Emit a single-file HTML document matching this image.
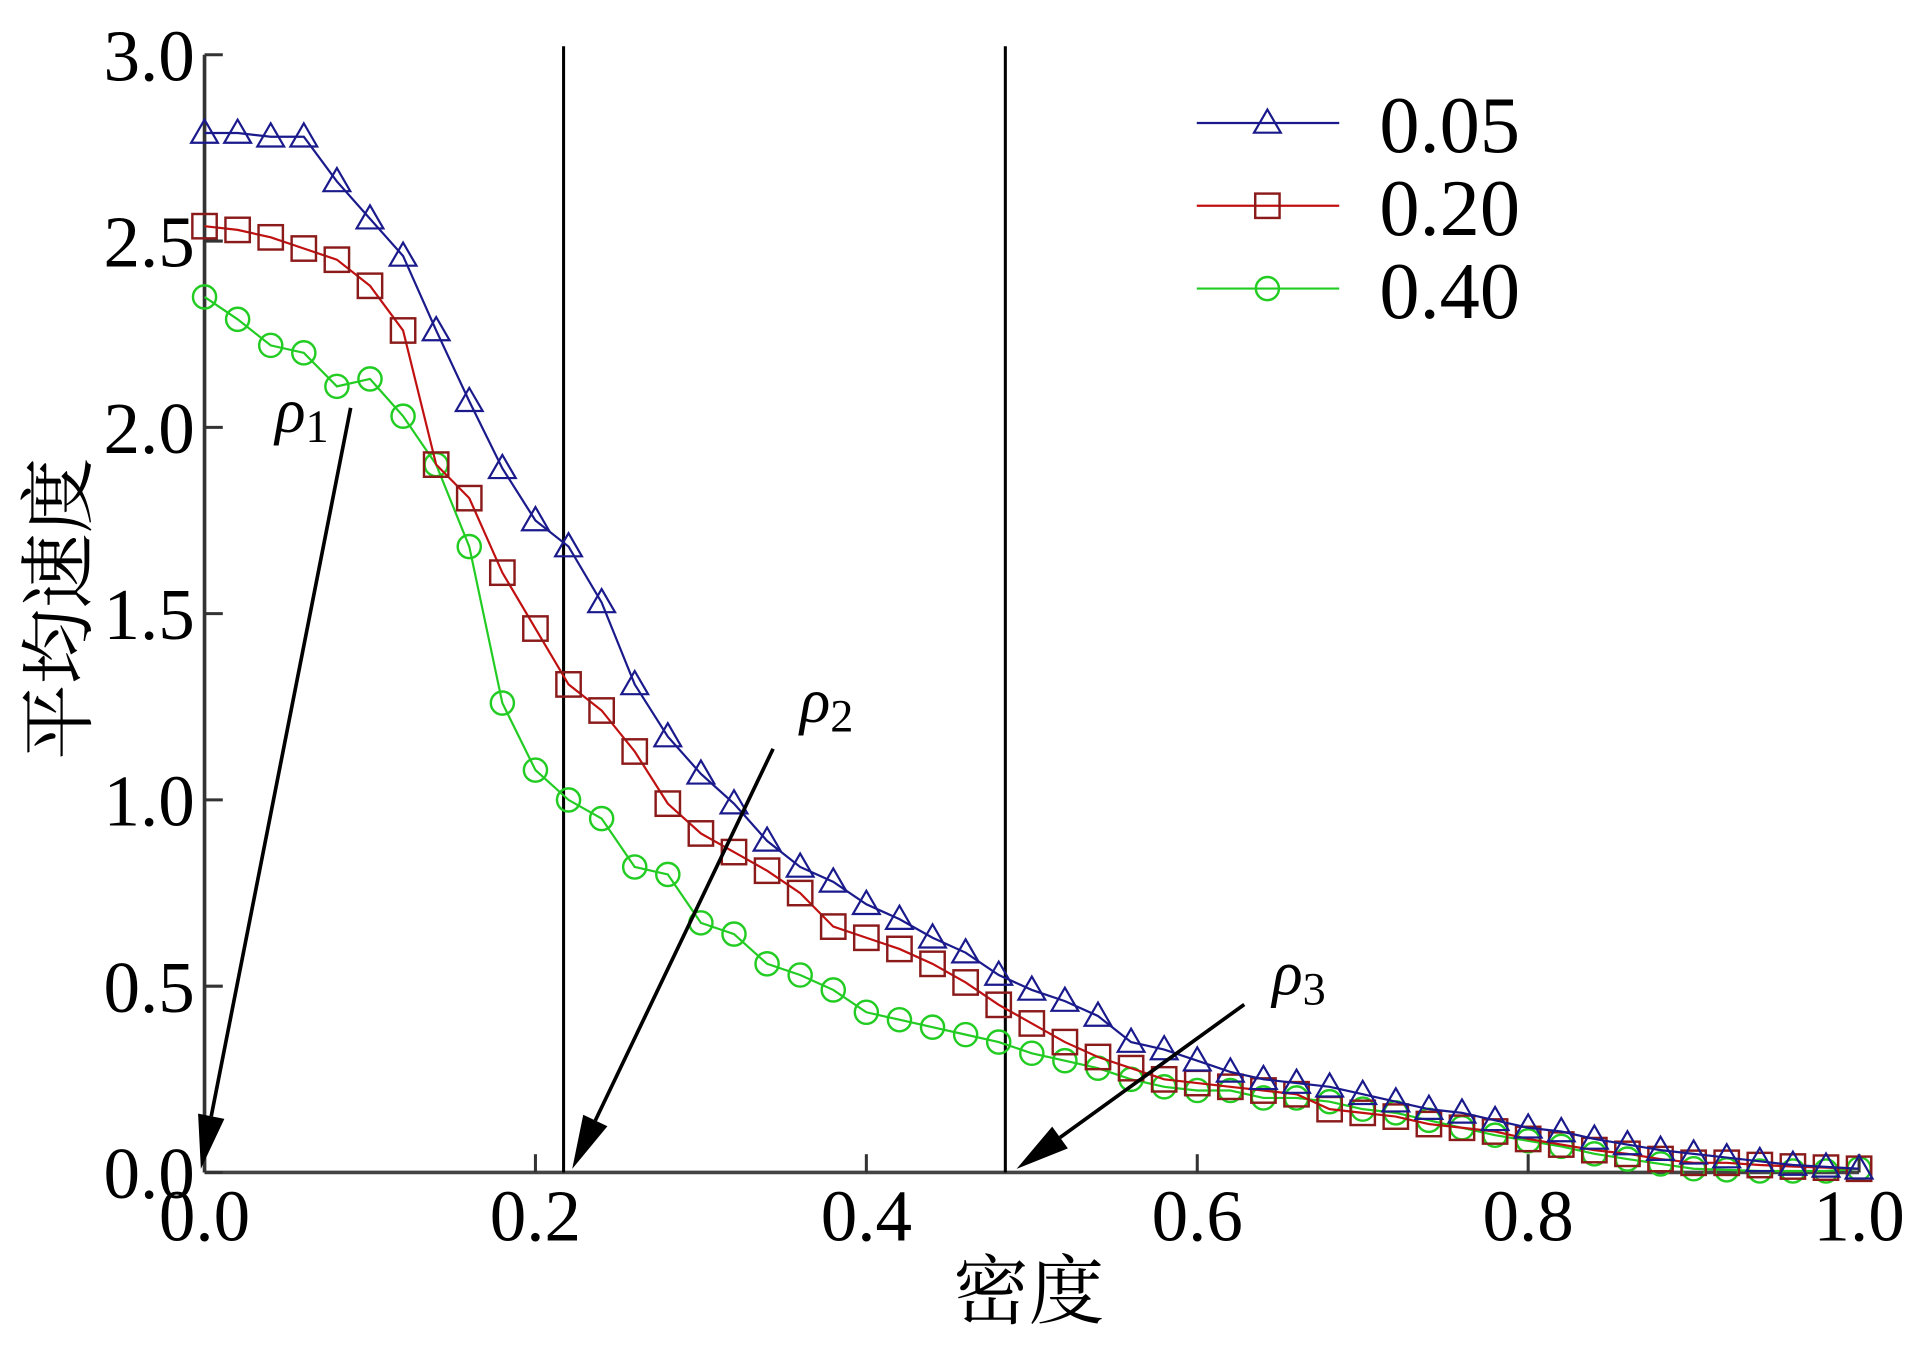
<!DOCTYPE html>
<html><head><meta charset="utf-8"><style>
html,body{margin:0;padding:0;background:#fff;}
svg{display:block;}
text{font-family:"Liberation Serif","Noto Serif CJK SC",serif;fill:#000;}
</style></head><body>
<svg id="chart" width="1909" height="1345" viewBox="0 0 1568 1104.7" preserveAspectRatio="none" xmlns="http://www.w3.org/2000/svg">
<g id="plot"></g>
</svg>
<script>
const densities = [0,0.02,0.04,0.06,0.08,0.10,0.12,0.14,0.16,0.18,0.20,0.22,0.24,0.26,0.28,0.30,0.32,0.34,0.36,0.38,0.40,0.42,0.44,0.46,0.48,0.50,0.52,0.54,0.56,0.58,0.60,0.62,0.64,0.66,0.68,0.70,0.72,0.74,0.76,0.78,0.80,0.82,0.84,0.86,0.88,0.90,0.92,0.94,0.96,0.98,1.00];
const series005 = [2.79,2.79,2.78,2.78,2.66,2.56,2.46,2.26,2.07,1.89,1.75,1.68,1.53,1.31,1.17,1.07,0.99,0.89,0.82,0.78,0.72,0.68,0.63,0.59,0.53,0.49,0.46,0.42,0.35,0.33,0.30,0.27,0.25,0.24,0.23,0.21,0.19,0.17,0.16,0.14,0.12,0.11,0.09,0.075,0.06,0.05,0.04,0.03,0.02,0.015,0.01];
const series020 = [2.54,2.53,2.51,2.48,2.45,2.38,2.26,1.90,1.81,1.61,1.46,1.31,1.24,1.13,0.99,0.91,0.86,0.81,0.75,0.66,0.63,0.60,0.56,0.51,0.45,0.40,0.35,0.31,0.28,0.25,0.24,0.23,0.22,0.21,0.17,0.16,0.15,0.13,0.12,0.11,0.09,0.075,0.06,0.05,0.036,0.026,0.026,0.02,0.016,0.013,0.01];
const series040 = [2.35,2.29,2.22,2.20,2.11,2.13,2.03,1.90,1.68,1.26,1.08,1.00,0.95,0.82,0.80,0.67,0.64,0.56,0.53,0.49,0.43,0.41,0.39,0.37,0.35,0.32,0.30,0.28,0.25,0.23,0.22,0.22,0.20,0.20,0.19,0.17,0.16,0.14,0.12,0.10,0.085,0.07,0.05,0.036,0.023,0.01,0.007,0.004,0.004,0.004,0.01];
const xTicks = [0,0.2,0.4,0.6,0.8,1.0];
const xTickLabels = ["0.0","0.2","0.4","0.6","0.8","1.0"];
const yTicks = [0,0.5,1.0,1.5,2.0,2.5,3.0];
const yTickLabels = ["0.0","0.5","1.0","1.5","2.0","2.5","3.0"];
const seriesNames = ["0.05","0.20","0.40"];
const criticalDensities = [0.217,0.484];

const X0=168,X1=1527,Y0=963,Y1=45;
const xs=v=>X0+(X1-X0)*v;
const ys=v=>Y0-(Y0-Y1)*v/3;
const NS="http://www.w3.org/2000/svg";
const g=document.getElementById('plot');
function mk(tag,attrs,parent){const e=document.createElementNS(NS,tag);for(const k in attrs)e.setAttribute(k,attrs[k]);(parent||g).appendChild(e);return e;}

let ax=mk('line',{x1:X0,y1:Y1,x2:X0,y2:Y0,stroke:'#333',"stroke-width":3});


ax=mk('line',{x1:X0,y1:Y0,x2:X1,y2:Y0,stroke:'#444',"stroke-width":3});


yTicks.forEach((v,i)=>{
  const t=mk('line',{x1:X0,y1:ys(v),x2:X0+15,y2:ys(v),stroke:'#333',"stroke-width":2.5});
  
  
  const l=mk('text',{x:X0-8,y:ys(v)+21,"font-size":60,"text-anchor":"end"});
  l.textContent=yTickLabels[i];
  
  
});
xTicks.forEach((v,i)=>{
  const t=mk('line',{x1:xs(v),y1:Y0,x2:xs(v),y2:Y0-15,stroke:'#333',"stroke-width":2.5});
  
  
  const l=mk('text',{x:xs(v),y:1019,"font-size":60,"text-anchor":"middle"});
  l.textContent=xTickLabels[i];
  
  
});
let t=mk('text',{x:845,y:1082,"font-size":62,"text-anchor":"middle"});
t.textContent='密度';


t=mk('text',{x:0,y:0,"font-size":62,"text-anchor":"middle",transform:"translate(70,500) rotate(-90)"});
t.textContent='平均速度';



criticalDensities.forEach(d=>{
  const l=mk('line',{x1:xs(d),y1:38,x2:xs(d),y2:Y0,stroke:'#000',"stroke-width":2.5});
  
  
});

function marker(type,x,y,color,parent){
  let m;
  if(type==='tri') m=mk('polygon',{points:`${x},${y-11} ${x-11},${y+8} ${x+11},${y+8}`,fill:'none',stroke:color,"stroke-width":1.8},parent);
  else if(type==='sq') m=mk('rect',{x:x-10,y:y-10,width:20,height:20,fill:'none',stroke:color,"stroke-width":2},parent);
  else m=mk('circle',{cx:x,cy:y,r:9.5,fill:'none',stroke:color,"stroke-width":2},parent);
  
  
}
const defs=[[series005,'#1a1a8c','#1a1a8c','tri','series-005'],[series020,'#c01010','#8b1a1a','sq','series-020'],[series040,'#22cc22','#22cc22','circ','series-040']];
defs.slice().reverse().forEach(([vals,lc,mc,mt,name])=>{
  const sg=mk('g',{});
  
  
  const p=mk('polyline',{points:vals.map((v,i)=>xs(densities[i])+','+ys(v)).join(' '),fill:'none',stroke:lc,"stroke-width":1.8},sg);
  
  
  vals.forEach((v,i)=>marker(mt,xs(densities[i]),ys(v),mc,sg));
});

const lg=mk('g',{});


defs.forEach(([vals,lc,mc,mt,name],i)=>{
  const y=101+i*68;
  const e=mk('g',{},lg);
  
  
  mk('line',{x1:983,y1:y,x2:1100,y2:y,stroke:lc,"stroke-width":1.8},e);
  marker(mt,1041,y,mc,e);
  const tx=mk('text',{x:1133,y:y+24,"font-size":66},e);
  tx.textContent=seriesNames[i];
});

const arrows=[[288,335,165,960],[635,615,470,960],[1022,825,835,960]];
arrows.forEach(([x1,y1,x2,y2])=>{
  const a=mk('g',{});
  
  
  const ang=Math.atan2(y2-y1,x2-x1),L=44,W=11;
  const bx=x2-L*Math.cos(ang),by=y2-L*Math.sin(ang);
  mk('line',{x1:x1,y1:y1,x2:bx,y2:by,stroke:'#000',"stroke-width":3},a);
  mk('polygon',{points:`${x2},${y2} ${bx-W*Math.sin(ang)},${by+W*Math.cos(ang)} ${bx+W*Math.sin(ang)},${by-W*Math.cos(ang)}`,fill:'#000'},a);
});
[['1',226,355],['2',657,593],['3',1045,817]].forEach(([s,x,y])=>{
  const tx=mk('text',{x:x,y:y,"font-size":52});
  
  
  const a=mk('tspan',{"font-style":"italic"},tx);a.textContent='ρ';
  const b=mk('tspan',{"font-size":38,dy:8},tx);b.textContent=s;
});
</script>
</body></html>
